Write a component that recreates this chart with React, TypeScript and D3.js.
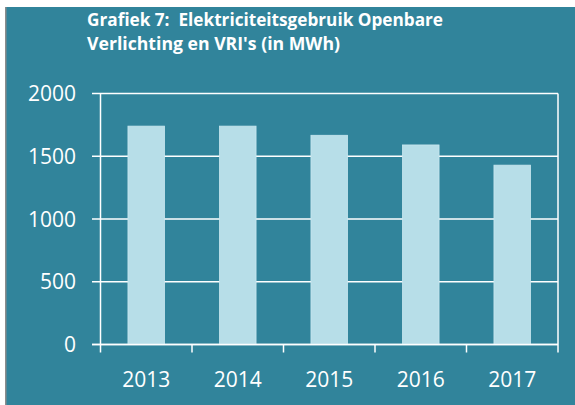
import { useEffect, useRef } from "react";
import * as d3 from "d3";

const years = ["2013", "2014", "2015", "2016", "2017"];
const usage = [1740, 1740, 1667, 1590, 1429];
const yTicks = [0, 500, 1000, 1500, 2000];
const titleLines = ["Grafiek 7:  Elektriciteitsgebruik Openbare", "Verlichting en VRI's (in MWh)"];

const W = 575;
const H = 405;
const BG = "#31849b";
const BAR = "#b7dee8";

function App() {
  const svgRef = useRef<SVGSVGElement | null>(null);

  useEffect(() => {
    if (!svgRef.current) return;
    const svg = d3.select(svgRef.current);
    svg.selectAll("*").remove();

    const left = 100.5;
    const right = 558;
    const top = 93.5;
    const bottom = 344.5;

    // panel background
    svg.append("rect").attr("x", 5).attr("y", 7).attr("width", W - 5).attr("height", H - 7).attr("fill", "#8c8c8c");
    svg.append("rect").attr("x", 6.5).attr("y", 7).attr("width", W - 6.5).attr("height", H - 7).attr("fill", BG);

    // title
    svg
      .append("g")
      .selectAll("text")
      .data(titleLines)
      .enter()
      .append("text")
      .attr("x", 87)
      .attr("y", (_, i) => 25.5 + i * 24)
      .attr("textLength", (_, i) => (i === 0 ? 356 : 253))
      .attr("lengthAdjust", "spacingAndGlyphs")
      .attr("fill", "#ffffff")
      .attr("font-family", "'Open Sans', sans-serif")
      .attr("font-weight", "bold")
      .attr("font-size", 18)
      .style("white-space", "pre")
      .text((d) => d);

    const x = d3.scaleBand<string>().domain(years).range([left, right]).paddingInner(0.6).paddingOuter(0.3);
    const xBand = d3.scaleBand<string>().domain(years).range([left, right]);
    const y = d3.scaleLinear().domain([0, 2000]).range([bottom, top]);

    // gridlines + y ticks
    svg
      .append("g")
      .selectAll("line")
      .data(yTicks)
      .enter()
      .append("line")
      .attr("x1", left - 8.5)
      .attr("x2", right)
      .attr("y1", (d) => y(d))
      .attr("y2", (d) => y(d))
      .attr("stroke", "#ffffff")
      .attr("stroke-width", 1.5);

    // bars
    svg
      .append("g")
      .selectAll("rect")
      .data(usage)
      .enter()
      .append("rect")
      .attr("x", (_, i) => x(years[i])!)
      .attr("width", x.bandwidth())
      .attr("y", (d) => y(d))
      .attr("height", (d) => y(0) - y(d))
      .attr("fill", BAR)
      .attr("stroke", "#c9e7ef")
      .attr("stroke-width", 0.8);

    // redraw baseline over bars
    svg
      .append("line")
      .attr("x1", left - 8.5)
      .attr("x2", right)
      .attr("y1", y(0))
      .attr("y2", y(0))
      .attr("stroke", "#ffffff")
      .attr("stroke-width", 1.5);

    // y axis line, right border and x ticks
    const xTickPos = years.map((d) => xBand(d)!).concat([right]);
    svg
      .append("g")
      .selectAll("line")
      .data(xTickPos)
      .enter()
      .append("line")
      .attr("x1", (d) => d)
      .attr("x2", (d) => d)
      .attr("y1", (_, i) => (i === 0 || i === xTickPos.length - 1 ? top : bottom))
      .attr("y2", bottom + 8)
      .attr("stroke", "#ffffff")
      .attr("stroke-width", 1.5);

    // y labels
    svg
      .append("g")
      .selectAll("text")
      .data(yTicks)
      .enter()
      .append("text")
      .attr("x", 76)
      .attr("y", (d) => y(d) + 7.5)
      .attr("text-anchor", "end")
      .attr("fill", "#ffffff")
      .attr("font-family", "'Open Sans', sans-serif")
      .attr("font-size", 21)
      .text((d) => String(d));

    // x labels
    svg
      .append("g")
      .selectAll("text")
      .data(years)
      .enter()
      .append("text")
      .attr("x", (d) => xBand(d)! + xBand.bandwidth() / 2)
      .attr("y", 387)
      .attr("text-anchor", "middle")
      .attr("fill", "#ffffff")
      .attr("font-family", "'Open Sans', sans-serif")
      .attr("font-size", 21)
      .text((d) => d);
  }, []);

  return (
    <svg
      ref={svgRef}
      width={W}
      height={H}
      style={{ position: "absolute", left: 0, top: 0, display: "block", background: "#ffffff" }}
    />
  );
}

export default App;
